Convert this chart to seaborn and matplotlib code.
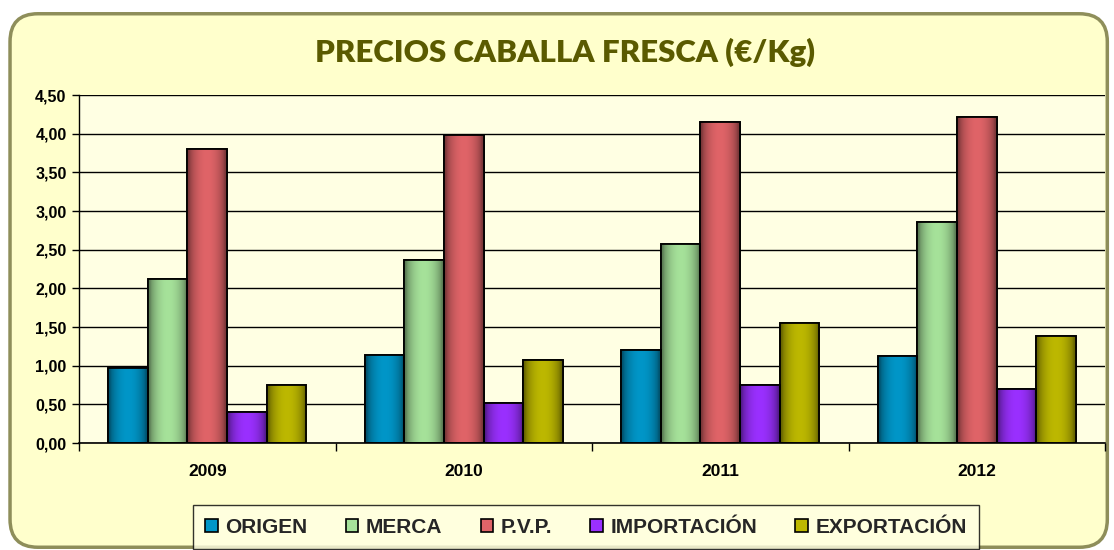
import numpy as np
import pandas as pd
import matplotlib
matplotlib.use("Agg")
import matplotlib.pyplot as plt
import seaborn as sns
from matplotlib.patches import FancyBboxPatch
from matplotlib.ticker import FuncFormatter, FixedLocator

years = ["2009", "2010", "2011", "2012"]
series = ["ORIGEN", "MERCA", "P.V.P.", "IMPORTACIÓN", "EXPORTACIÓN"]
origen = [0.97, 1.14, 1.20, 1.12]
merca = [2.12, 2.37, 2.57, 2.86]
pvp = [3.80, 3.98, 4.15, 4.22]
importacion = [0.40, 0.52, 0.75, 0.70]
exportacion = [0.75, 1.07, 1.55, 1.38]
colors = ["#0096C8", "#A6E29A", "#E06468", "#9A30FF", "#BDB800"]

rows = []
for name, vals in zip(series, [origen, merca, pvp, importacion, exportacion]):
    for y, v in zip(years, vals):
        rows.append({"year": y, "serie": name, "valor": v})
df = pd.DataFrame(rows)

sns.set_theme(style="white")
plt.rcParams["font.family"] = "Liberation Sans"
plt.rcParams["font.weight"] = "bold"

fig = plt.figure(figsize=(11.14, 5.5), dpi=100)
fig.patch.set_facecolor("white")
frame = FancyBboxPatch((0.009, 0.005), 0.985, 0.97, boxstyle="round,pad=0,rounding_size=0.025",
                       transform=fig.transFigure, facecolor="#FFFFCC", edgecolor="#8E8E5A",
                       linewidth=2.5, mutation_aspect=1114/550, zorder=-10)
fig.patches.append(frame)

ax = fig.add_axes([79/1114, 1 - 443/550, (1105 - 79)/1114, (443 - 95)/550])
ax.set_facecolor("#FFFFE3")

sns.barplot(data=df, x="year", y="valor", hue="serie", palette=colors, width=0.77,
            edgecolor="black", linewidth=1.2, ax=ax, legend=True, saturation=1)

# cylindrical shading on bars
grad = np.linspace(0, 1, 64)
shade = 0.55 + 0.45 * np.sin(np.pi * np.clip(grad * 1.1 - 0.05, 0, 1)) ** 0.6
for patch in list(ax.patches):
    if patch.get_height() <= 0:
        continue
    fc = np.array(patch.get_facecolor()[:3])
    img = np.clip(fc[None, None, :] * shade[None, :, None], 0, 1)
    x0, w, h = patch.get_x(), patch.get_width(), patch.get_height()
    im = ax.imshow(img, extent=[x0, x0 + w, 0, h], aspect="auto", zorder=patch.get_zorder() + 0.1,
                   interpolation="bilinear")
    im.set_clip_path(patch)
    edge = plt.Rectangle((x0, 0), w, h, fill=False, edgecolor="black", linewidth=1.3,
                         zorder=patch.get_zorder() + 0.2)
    ax.add_patch(edge)

ax.set_xlim(-0.5, 3.5)
ax.set_ylim(0, 4.5)
ax.yaxis.set_major_locator(FixedLocator(np.arange(0, 4.51, 0.5)))
ax.yaxis.set_major_formatter(FuncFormatter(lambda v, p: f"{v:.2f}".replace(".", ",")))
ax.grid(axis="y", color="black", linewidth=1)
ax.set_axisbelow(True)
for s in ["top", "right"]:
    ax.spines[s].set_visible(False)
ax.spines["left"].set_color("black")
ax.spines["bottom"].set_color("black")
ax.spines["left"].set_linewidth(1)
ax.spines["bottom"].set_linewidth(1.2)
ax.set_xlabel("")
ax.set_ylabel("")
ax.set_xticks(range(len(years)))
ax.set_xticklabels(years)
ax.set_xticks(np.arange(-0.5, 3.6, 1), minor=True)
ax.tick_params(axis="y", left=True, length=5, width=1, color="black", labelsize=11.5, pad=4)
ax.tick_params(axis="x", which="major", bottom=False, labelsize=12.5, pad=9)
ax.tick_params(axis="x", which="minor", bottom=True, length=6, width=1, color="black")

fig.text(0.507, 0.905, "PRECIOS CABALLA FRESCA (€/Kg)", ha="center", va="center",
         fontsize=22.5, fontweight="heavy", color="#5A5A00", family="Lato")

handles, labels = ax.get_legend_handles_labels()
ax.get_legend().remove()
leg = fig.legend(handles, labels, loc="center", bbox_to_anchor=(0.526, 0.041), ncol=5,
                 frameon=True, fancybox=False, edgecolor="black", facecolor="#FFFFE3",
                 prop={"weight": "bold", "size": 15, "family": "Liberation Sans"},
                 handlelength=0.6, handleheight=0.6,
                 handletextpad=0.35, columnspacing=1.85, borderpad=0.6)
leg.get_frame().set_linewidth(1)

fig.canvas.draw()
for lab in ax.get_xticklabels() + ax.get_yticklabels():
    lab.set_fontweight("bold")
    lab.set_family("Liberation Sans")
    lab.set_color("black")

fig.savefig("out.png", dpi=100, facecolor=fig.get_facecolor())
